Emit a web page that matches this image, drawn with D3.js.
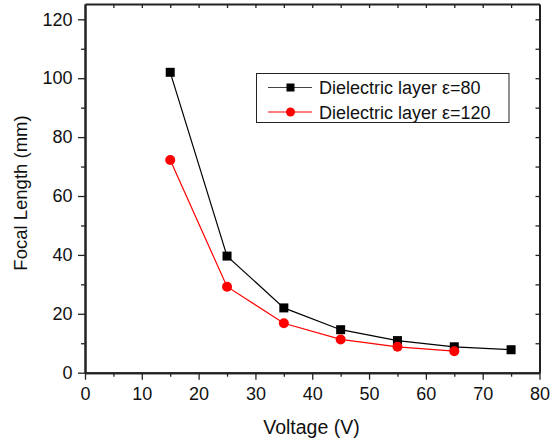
<!DOCTYPE html>
<html>
<head>
<meta charset="utf-8">
<script src="https://cdn.jsdelivr.net/npm/d3@7"></script>
<style>
  body { margin: 0; background: #fff; }
  text { font-family: "Liberation Sans", Arial, sans-serif; }
</style>
</head>
<body>
<div id="chart"></div>
<script>
// data
const voltage80 = [15, 25, 35, 45, 55, 65, 75];
const focal80 = [102, 39.6, 22.0, 14.6, 10.9, 8.8, 7.8];
const voltage120 = [15, 25, 35, 45, 55, 65];
const focal120 = [72.2, 29.2, 16.8, 11.3, 8.8, 7.3];
const xTicks = [0, 10, 20, 30, 40, 50, 60, 70, 80];
const yTicks = [0, 20, 40, 60, 80, 100, 120];
const seriesNames = ['Dielectric layer \u03b5=80', 'Dielectric layer \u03b5=120'];

const width = 550, height = 439;
const margin = { top: 4, right: 10, bottom: 66, left: 85 };

const svg = d3.select('#chart')
  .append('svg')
  .attr('width', width)
  .attr('height', height);

const xScale = d3.scaleLinear()
  .domain([0, 80])
  .range([margin.left, 539.5]);

const yScale = d3.scaleLinear()
  .domain([0, 125.2])
  .range([372.7, margin.top]);

const axisColor = '#222';

// bottom axis, outward ticks
const xAxis = d3.axisBottom(xScale).tickValues(xTicks).tickSize(7).tickPadding(8).tickSizeOuter(0);
const xMinor = d3.axisBottom(xScale).tickValues(d3.range(5, 80, 10)).tickSize(4).tickFormat('').tickSizeOuter(0);
// left axis
const yAxis = d3.axisLeft(yScale).tickValues(yTicks).tickSize(7).tickPadding(5.5).tickSizeOuter(0);
const yMinor = d3.axisLeft(yScale).tickValues(d3.range(10, 125, 20)).tickSize(4).tickFormat('').tickSizeOuter(0);
// top and right mirror axes, inward ticks
const xTop = d3.axisBottom(xScale).tickValues(d3.range(5, 80, 5)).tickSize(4).tickFormat('').tickSizeOuter(0);
const yRight = d3.axisRight(yScale).tickValues(d3.range(10, 125, 10)).tickSize(-4).tickFormat('').tickSizeOuter(0);

function style(g) {
  g.selectAll('path').attr('stroke', axisColor).attr('stroke-width', 2);
  g.selectAll('line').attr('stroke', axisColor).attr('stroke-width', 1.3);
  g.selectAll('text').attr('fill', '#111').style('font-size', '18px');
}

svg.append('g').attr('transform', `translate(0,${yScale(0)})`).call(xMinor).call(style);
svg.append('g').attr('transform', `translate(0,${yScale(0)})`).call(xAxis).call(style);
svg.append('g').attr('transform', `translate(${margin.left},0)`).call(yMinor).call(style);
svg.append('g').attr('transform', `translate(${margin.left},0)`).call(yAxis).call(style);
svg.append('g').attr('transform', `translate(0,${margin.top})`).call(xTop).call(style);
svg.append('g').attr('transform', `translate(${xScale(80)},0)`).call(yRight).call(style);

// axis titles
svg.append('text')
  .attr('x', 311.5)
  .attr('y', 434)
  .attr('text-anchor', 'middle')
  .attr('fill', '#111')
  .style('font-size', '19.5px')
  .text('Voltage (V)');

svg.append('text')
  .attr('transform', 'translate(26.5,193) rotate(-90)')
  .attr('text-anchor', 'middle')
  .attr('fill', '#111')
  .style('font-size', '18.5px')
  .text('Focal Length (mm)');

const line = d3.line()
  .x(d => xScale(d[0]))
  .y(d => yScale(d[1]));

const data80 = voltage80.map((v, i) => [v, focal80[i]]);
const data120 = voltage120.map((v, i) => [v, focal120[i]]);

svg.append('path')
  .attr('d', line(data80))
  .attr('fill', 'none')
  .attr('stroke', '#000')
  .attr('stroke-width', 1.2);

svg.append('path')
  .attr('d', line(data120))
  .attr('fill', 'none')
  .attr('stroke', '#ff0000')
  .attr('stroke-width', 1.2);

const sq = 9;
svg.selectAll('.sq')
  .data(data80)
  .enter()
  .append('rect')
  .attr('x', d => xScale(d[0]) - sq / 2)
  .attr('y', d => yScale(d[1]) - sq / 2)
  .attr('width', sq)
  .attr('height', sq)
  .attr('fill', '#000');

svg.selectAll('.dot')
  .data(data120)
  .enter()
  .append('circle')
  .attr('cx', d => xScale(d[0]))
  .attr('cy', d => yScale(d[1]))
  .attr('r', 5)
  .attr('fill', '#ff0000');

// legend
const legend = svg.append('g');
legend.append('rect')
  .attr('x', 256.5)
  .attr('y', 73.5)
  .attr('width', 252.5)
  .attr('height', 49)
  .attr('fill', '#fff')
  .attr('stroke', '#222')
  .attr('stroke-width', 1);

const rows = [
  { name: seriesNames[0], color: '#000', line: '#444', y: 87.5, shape: 'square' },
  { name: seriesNames[1], color: '#ff0000', line: '#ff0000', y: 112, shape: 'circle' }
];

rows.forEach(r => {
  legend.append('line')
    .attr('x1', 268).attr('x2', 312)
    .attr('y1', r.y).attr('y2', r.y)
    .attr('stroke', r.line)
    .attr('stroke-width', 1.2);
  if (r.shape === 'square') {
    legend.append('rect')
      .attr('x', 290.5 - 4).attr('y', r.y - 4)
      .attr('width', 8).attr('height', 8)
      .attr('fill', r.color);
  } else {
    legend.append('circle')
      .attr('cx', 290.5).attr('cy', r.y)
      .attr('r', 4.5)
      .attr('fill', r.color);
  }
  legend.append('text')
    .attr('x', 319)
    .attr('y', r.y + 6.5)
    .style('font-size', '18px')
    .attr('fill', '#111')
    .text(r.name);
});
</script>
</body>
</html>
